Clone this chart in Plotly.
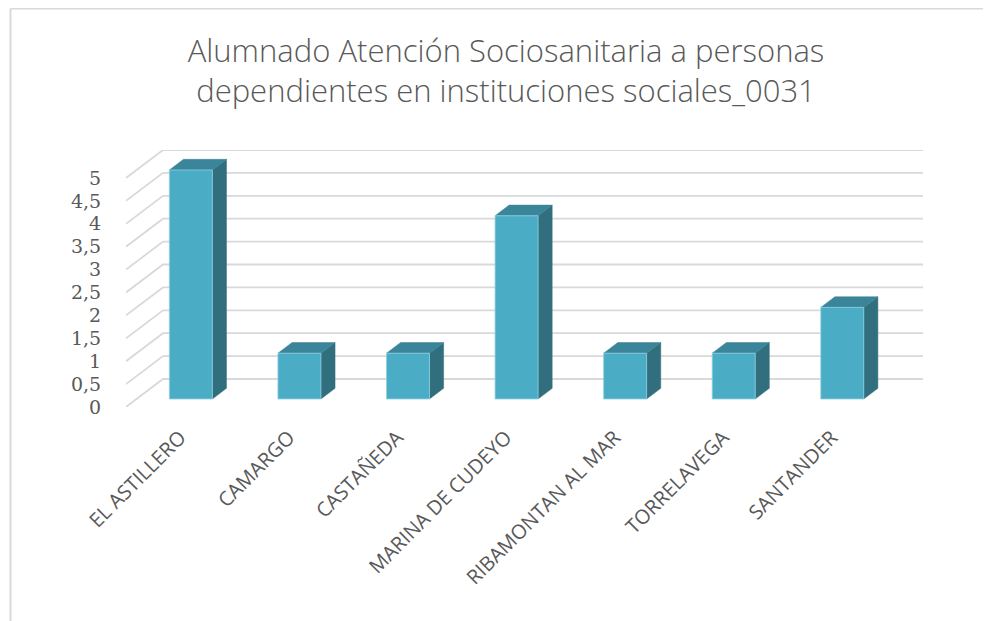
import plotly.graph_objects as go

# ---- data ----
categories = ["EL ASTILLERO", "CAMARGO", "CASTAÑEDA", "MARINA DE CUDEYO",
              "RIBAMONTAN AL MAR", "TORRELAVEGA", "SANTANDER"]
values = [5, 1, 1, 4, 1, 1, 2]
y_tick_values = [0, 0.5, 1, 1.5, 2, 2.5, 3, 3.5, 4, 4.5, 5]
y_tick_labels = ["0", "0,5", "1", "1,5", "2", "2,5", "3", "3,5", "4", "4,5", "5"]
title_text = "Alumnado Atención Sociosanitaria a personas<br>dependientes en instituciones sociales_0031"

# ---- 3D geometry (in axis units) ----
W, H = 983, 613          # page body has an 8px margin
ML, MR, MT, MB = 118, 68, 142, 214
DX = 0.341   # depth offset along category axis
DY = 0.611   # depth offset along value axis
F0, F1 = 0.286, 0.667  # bar front/back depth fraction
HALF = 0.198  # bar half width

FRONT = "#4BACC6"
TOP = "#3A8599"
SIDE = "#316F7F"
GRID = "#D9D9D9"
TXT = "#595959"

fig = go.Figure()

# gridlines on back wall + left wall diagonals
n = len(categories)
gx, gy = [], []
for g in y_tick_values:
    gx += [-0.5, -0.5 + DX, n - 0.5 + DX, None]
    gy += [g, g + DY, g + DY, None]
fig.add_trace(go.Scatter(x=gx, y=gy, mode="lines",
                         line=dict(color=GRID, width=1.8),
                         hoverinfo="skip", showlegend=False))

# bars
for i, v in enumerate(values):
    c = i + F0 * DX
    x0, x1 = c - HALF, c + HALF
    y0, yt = F0 * DY, v + F0 * DY
    ddx, ddy = (F1 - F0) * DX, (F1 - F0) * DY
    # side
    fig.add_trace(go.Scatter(
        x=[x1, x1, x1 + ddx, x1 + ddx, x1], y=[y0, yt, yt + ddy, y0 + ddy, y0],
        fill="toself", fillcolor=SIDE, mode="lines", line=dict(color=SIDE, width=0.5),
        hoverinfo="skip", showlegend=False))
    # top
    fig.add_trace(go.Scatter(
        x=[x0, x1, x1 + ddx, x0 + ddx, x0], y=[yt, yt, yt + ddy, yt + ddy, yt],
        fill="toself", fillcolor=TOP, mode="lines", line=dict(color=TOP, width=0.5),
        hoverinfo="skip", showlegend=False))
    # front
    fig.add_trace(go.Scatter(
        x=[x0, x1, x1, x0, x0], y=[y0, y0, yt, yt, y0],
        fill="toself", fillcolor=FRONT, mode="lines", line=dict(color="#8FD0E0", width=0.8),
        name=categories[i], hovertemplate=f"{categories[i]}: {v}<extra></extra>",
        showlegend=False))

pw = W - ML - MR
ph = H - MT - MB
bx = (2.5 - ML) / pw
by = 1 + (MT - 0.5) / ph

fig.update_layout(
    width=W, height=H,
    margin=dict(l=ML, r=MR, t=MT, b=MB),
    paper_bgcolor="white", plot_bgcolor="white",
    title=dict(text=title_text, x=498 / W, xanchor="center",
               y=1 - 54 / H, yanchor="middle", yref="container",
               font=dict(family="Open Sans", size=31, color=TXT, weight=300)),
    xaxis=dict(range=[-0.5, n - 0.5 + DX], tickvals=list(range(n)), ticktext=categories,
               tickangle=-45, showgrid=False, zeroline=False, showline=False,
               ticks="outside", ticklen=10, tickcolor="rgba(0,0,0,0)",
               tickfont=dict(family="Open Sans", size=20, color=TXT), fixedrange=True),
    yaxis=dict(range=[0, 5 + DY], tickvals=y_tick_values, ticktext=y_tick_labels,
               showgrid=False, zeroline=False, showline=False,
               ticks="outside", ticklen=20, tickcolor="rgba(0,0,0,0)",
               tickfont=dict(family="DejaVu Serif", size=19, color=TXT), fixedrange=True),
    shapes=[
        dict(type="line", xref="paper", yref="paper", x0=bx, x1=bx, y0=by, y1=-2,
             line=dict(color=GRID, width=2)),
        dict(type="line", xref="paper", yref="paper", x0=bx, x1=2, y0=by, y1=by,
             line=dict(color=GRID, width=2)),
    ],
)

fig.write_html("out.html")
